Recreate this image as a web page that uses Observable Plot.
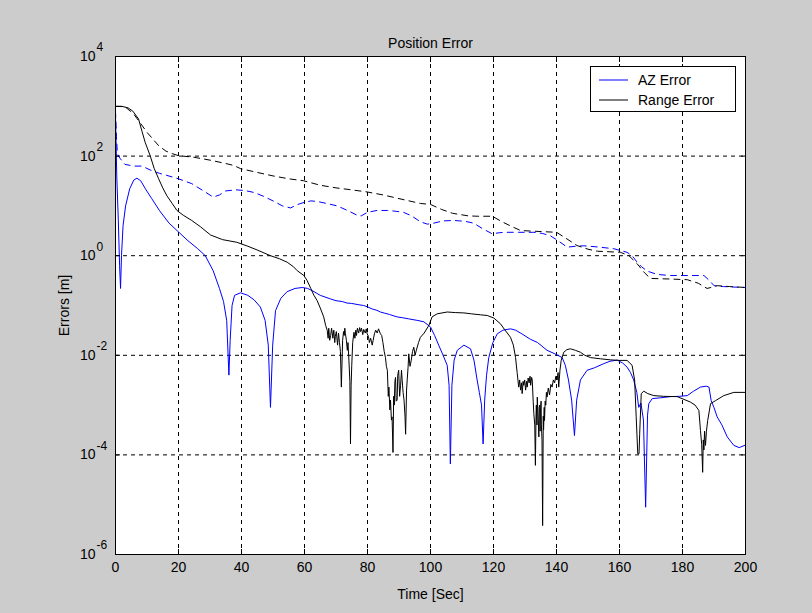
<!DOCTYPE html>
<html>
<head>
<meta charset="utf-8">
<script src="https://cdn.jsdelivr.net/npm/d3@7"></script>
<script src="https://cdn.jsdelivr.net/npm/@observablehq/plot@0.6"></script>
<style>
  html, body { margin: 0; padding: 0; background: #cccccc; }
  #chart { position: relative; width: 812px; height: 613px; }
  .legend {
    position: absolute; left: 590px; top: 66px; width: 144px; height: 44px;
    background: #ffffff; border: 1px solid #000000;
    font: 14px "Liberation Sans", Arial, sans-serif; color: #000;
  }
  .legend .row { position: absolute; left: 0; height: 20px; display: flex; align-items: center; }
  .legend svg { margin-left: 8px; margin-right: 10px; }
</style>
</head>
<body>
<div id="chart"></div>
<script>
// Axis ticks
const xTicks = [0, 20, 40, 60, 80, 100, 120, 140, 160, 180, 200];
const yTicks = [1e-6, 1e-4, 1e-2, 1e0, 1e2, 1e4];

// Series: [time (s), error (m)]
const azError = [
  [0,700],[0.4,40],[0.9,5],[1.3,0.63],[1.6,0.22],[1.9,1],[2.4,4],[3.2,10],[4.5,22],[5.8,33],
  [6.8,36],[8,32],[9.5,22],[11.5,14],[14,8],[17,4.5],[20,3],[23,2],[26,1.4],[28.5,1.0],
  [31,0.5],[33,0.22],[34.3,0.12],[35.3,0.05],[36,0.004],[36.4,0.02],[37,0.1],[37.8,0.16],[39.7,0.18],[42,0.16],
  [44,0.13],[46,0.093],[47.5,0.05],[48.5,0.016],[49.2,0.0009],[49.9,0.016],[50.8,0.079],[52.5,0.14],[54.5,0.19],[57,0.22],
  [59.3,0.23],[61,0.22],[63,0.19],[65,0.16],[68.3,0.135],[70,0.125],[72,0.12],[73.5,0.112],[75,0.11],[77,0.104],[78.8,0.1],
  [80,0.094],[81.5,0.085],[83,0.08],[84.1,0.074],[85.5,0.07],[87,0.066],[89.4,0.059],[91,0.057],[93,0.054],[96,0.05],[97.9,0.047],
  [100,0.037],[101.3,0.025],[102.6,0.016],[104,0.01],[105.3,0.0063],
  [105.9,0.0025],[106.3,0.000066],[106.8,0.0025],[107.5,0.008],[108.5,0.0126],[110.6,0.016],[112.7,0.0135],[113.8,0.008],[114.8,0.0032],[115.5,0.0018],
  [116.2,0.001],[116.7,0.000166],[117.2,0.00126],[117.8,0.004],[118.5,0.009],[119.8,0.018],[121.2,0.027],[123,0.032],[125.4,0.034],[127,0.032],
  [129,0.027],[131.7,0.021],[134,0.018],[137,0.0126],[139.5,0.0107],[141.8,0.009],[142.8,0.0063],[143.8,0.0032],[144.8,0.00126],[145.7,0.000245],
  [146.4,0.00126],[147.6,0.0032],[149.7,0.005],[152,0.0056],[155,0.0068],[157,0.0076],[159.3,0.008],[161,0.007],[162.4,0.0058],[163.5,0.0045],
  [164.5,0.0032],[165.5,0.0018],[166.1,0.0009],[166.8,0.0011],[167.6,0.0005],[168.3,0.0000089],[168.9,0.00063],[169.3,0.00107],[170.4,0.00135],[173,0.0014],
  [176.2,0.00148],[179,0.0015],[181.5,0.00155],[183.5,0.0019],[185.7,0.0023],[187.5,0.0024],[188.4,0.0023],[189.1,0.00123],[190,0.00089],[191,0.00058],
  [192.5,0.0004],[194.2,0.00023],[196.3,0.000155],[198,0.00014],[200,0.000158]
];

const rangeError = [
  [0,1000],[2,1000],[4,930],[5.5,800],[7.3,560],[8.4,316],[9.4,190],[11,102],[12.3,56],[13.7,35],
  [15,23],[16.3,16],[18,11.2],[19.5,8.1],[21.5,6.5],[24.2,5.1],[27,3.8],[30.2,2.6],[34,2.1],[38.5,1.86],
  [42,1.55],[45,1.3],[49.2,1.0],[52,0.87],[54.5,0.74],[56.5,0.6],[57.7,0.5],[59.8,0.4],[60.8,0.32],[62,0.22],
  [63,0.16],[64,0.126],[65,0.089],[66.1,0.059],[66.7,0.04],[67.2,0.032],[67.5,0.022],[67.7,0.035],[68,0.02],[68.3,0.025],
  [68.6,0.035],[69,0.022],[69.3,0.032],[69.6,0.018],[69.8,0.024],[70.1,0.03],[70.5,0.016],[70.8,0.028],[71.1,0.018],[71.4,0.012],
  [71.7,0.0023],[72.1,0.02],[72.4,0.03],[72.6,0.025],[72.8,0.035],[73,0.027],[73.3,0.02],[73.6,0.0126],[73.8,0.018],[74.1,0.008],
  [74.4,0.003],[74.6,0.000166],[74.8,0.0025],[75,0.0063],[75.3,0.018],[75.7,0.029],[76,0.022],[76.3,0.032],[76.5,0.025],[76.8,0.035],
  [77.2,0.028],[77.5,0.036],[77.8,0.03],[78.1,0.035],[78.5,0.026],[78.8,0.033],[79.3,0.028],[79.6,0.034],[79.9,0.027],[80.3,0.024],
  [80.6,0.018],[81,0.022],[81.5,0.016],[81.8,0.02],[82.2,0.027],[82.6,0.032],[83.1,0.028],[83.5,0.034],[84.1,0.027],[84.5,0.025],
  [84.9,0.018],[85.3,0.012],[85.7,0.009],[86,0.006],[86.3,0.005],[86.6,0.0015],[86.8,0.0023],[87.1,0.0008],[87.3,0.00126],[87.6,0.0005],
  [87.8,0.00058],[88.1,0.000112],[88.3,0.0015],[88.5,0.001],[88.7,0.003],[88.9,0.0036],[89.1,0.0012],[89.4,0.00126],[89.6,0.004],[89.9,0.005],
  [90.2,0.0015],[90.5,0.0025],[90.8,0.005],[91,0.0032],[91.3,0.0018],[91.6,0.00126],[91.9,0.0006],[92.1,0.00026],[92.4,0.002],[92.6,0.0032],
  [92.9,0.006],[93.1,0.0107],[93.5,0.006],[93.9,0.008],[94.3,0.012],[94.7,0.0145],[95.1,0.01],[95.5,0.0126],[96.2,0.018],[96.8,0.023],
  [98,0.028],[99.5,0.04],[100.5,0.059],[102.1,0.068],[105.3,0.074],[108,0.072],[110.6,0.071],[113,0.068],
  [115.9,0.065],[118,0.063],[120.1,0.056],[122.2,0.043],[123.5,0.033],[125.4,0.023],[126.3,0.016],[127,0.009],[127.5,0.0045],[128,0.0023],
  [128.3,0.0032],[128.6,0.002],[128.9,0.0028],[129.1,0.0017],[129.4,0.003],[129.6,0.0025],[129.9,0.0032],[130.2,0.002],[130.5,0.003],[130.7,0.0023],
  [131,0.0035],[131.3,0.0028],[131.6,0.0038],[131.8,0.0025],[132.1,0.0036],[132.3,0.0032],[132.6,0.0012],[132.8,0.00068],[133.1,0.0004],[133.3,0.0000617],
  [133.5,0.0006],[133.6,0.001],[133.8,0.0004],[133.9,0.00145],[134.1,0.0007],[134.2,0.0005],[134.4,0.00023],[134.5,0.0009],[134.7,0.001],[134.8,0.0003],
  [134.9,0.00068],[135.1,0.0012],[135.2,0.0004],[135.4,0.0002],[135.6,0.0000038],[135.8,0.0006],[135.9,0.00032],[136.1,0.0009],[136.2,0.00049],[136.4,0.0012],
  [136.6,0.001],[136.8,0.0018],[137,0.00145],[137.4,0.0022],[137.8,0.0016],[138.2,0.0026],[138.6,0.0023],[139,0.0032],[139.4,0.0028],[139.8,0.0038],
  [140.2,0.0032],[140.5,0.0045],[140.7,0.0023],[141.1,0.005],[141.5,0.008],[142.3,0.0115],
  [143.3,0.013],[144.4,0.0135],[146,0.0126],[147.6,0.0115],[149,0.01],[150.8,0.009],[154,0.0085],[157.1,0.0081],[160,0.0079],[162.4,0.0079],
  [164,0.0063],[164.8,0.0032],[165.3,0.00058],[165.8,0.000105],[166.2,0.000105],[166.4,0.00026],[166.9,0.0017],[167.7,0.0019],[169,0.0017],[170.9,0.00155],
  [174,0.0015],[178.3,0.00148],[180.5,0.0013],[182.5,0.00115],[184,0.001],[185.2,0.00078],[185.7,0.00031],[186.1,0.00016],[186.4,0.0000447],[186.6,0.0002],
  [186.8,0.000126],[187,0.0003],[187.3,0.000155],[187.6,0.0003],[188,0.00049],[188.9,0.00107],[190.5,0.00123],[193.1,0.00155],[196.3,0.0018],[200,0.0018]
];

// Dashed bounds drawn for each error
const azBound = [
  [0,800],[0.3,250],[0.6,112],[1.5,89],[3,68],[6,63],[8.4,63],[11.5,51],[14,45],[16.3,41],
  [20,35],[24.2,28],[28.5,19],[31,15],[33,16.6],[35,20],[38.3,21],[41,20.4],[44,18.6],[47.1,15.5],
  [50,12.6],[53,10],[55.6,9.1],[57.5,10.5],[59.8,11.7],[62,12.6],[64,12.3],[67,11.2],[70.4,10],[74,7.9],
  [76.7,6.5],[78,6.3],[79.9,7.4],[83,8.1],[86.3,8.1],[89,7.8],[91.5,7.4],[94,6.3],[96.8,4.8],[99,4.3],
  [101,4.5],[104,5],[107.4,5.1],[111,4.9],[113.7,4.5],[116.5,3.5],[119.6,2.75],[122,2.9],[124.3,2.95],[128,2.95],
  [132.8,2.95],[135.5,2.8],[138.1,2.5],[140.5,2.0],[143.4,1.48],[146,1.55],[148.7,1.58],[153,1.5],[158.2,1.38],[162.4,1.17],
  [164,1.0],[165.6,0.74],[167,0.6],[168.8,0.49],[172,0.42],[176.2,0.4],[182,0.4],[186.8,0.4],[188.5,0.32],[190,0.25],
  [193,0.24],[196,0.235],[200,0.23]
];

const rangeBound = [
  [0,1000],[3,980],[5.7,710],[8,450],[10,300],[12,215],[13.7,162],[16,126],[18,112],[20,102],
  [24.8,95],[30,83],[35,71],[37.5,65],[39.7,56],[45,47],[50,40],[55,35],[59.7,32],[65,26],
  [70,23],[75,21],[80,19],[85,16.6],[90,14],[96.8,11.2],[100,10.7],[103.5,8.5],[107,7.1],[112,6.3],
  [115,6.2],[119.6,6.2],[123,4.7],[126,3.8],[128.6,3.2],[133,3.1],[140,2.95],[143,2.24],[146.5,1.6],[150,1.35],
  [153,1.23],[160.3,1.17],[163,1.0],[165.6,0.69],[168,0.45],[169.8,0.35],[176,0.34],[181.5,0.33],[185,0.28],[187.8,0.22],
  [189,0.23],[191,0.25],[195,0.24],[200,0.23]
];

const seriesNames = ["AZ Error", "Range Error"];
const seriesColors = ["#0000ff", "#000000"];

const font = '"Liberation Sans", Arial, sans-serif';
const gridDash = "4,4";
const boundDash = "6,5";

const chart = Plot.plot({
  width: 812,
  height: 613,
  marginLeft: 115,
  marginRight: 67,
  marginTop: 56,
  marginBottom: 59,
  style: { background: "#cccccc", fontFamily: font, fontSize: "14px", color: "#000" },
  x: { domain: [0, 200] },
  y: { type: "log", domain: [1e-6, 1e4] },
  marks: [
    Plot.frame({ fill: "#ffffff", stroke: null }),
    Plot.gridX(xTicks, { stroke: "#000", strokeOpacity: 1, strokeDasharray: gridDash }),
    Plot.gridY(yTicks, { stroke: "#000", strokeOpacity: 1, strokeDasharray: gridDash }),
    Plot.line(azBound, { x: d => d[0], y: d => d[1], stroke: seriesColors[0], strokeWidth: 1, strokeDasharray: boundDash }),
    Plot.line(rangeBound, { x: d => d[0], y: d => d[1], stroke: seriesColors[1], strokeWidth: 1, strokeDasharray: boundDash }),
    Plot.line(azError, { x: d => d[0], y: d => d[1], stroke: seriesColors[0], strokeWidth: 1 }),
    Plot.line(rangeError, { x: d => d[0], y: d => d[1], stroke: seriesColors[1], strokeWidth: 1 }),
    Plot.frame({ stroke: "#000", strokeWidth: 1 }),
    // inward tick marks on all four sides
    Plot.axisX(xTicks, { anchor: "bottom", tickSize: -5, tickFormat: () => "", label: null }),
    Plot.axisX(xTicks, { anchor: "top", tickSize: -5, tickFormat: () => "", label: null }),
    Plot.axisY(yTicks, { anchor: "left", tickSize: -5, tickFormat: () => "", label: null }),
    Plot.axisY(yTicks, { anchor: "right", tickSize: -5, tickFormat: () => "", label: null }),
    // tick labels and axis titles
    Plot.axisX(xTicks, { anchor: "bottom", tickSize: 0, tickPadding: 8, tickFormat: d => String(d),
      label: "Time [Sec]", labelAnchor: "center", labelArrow: "none", labelOffset: 44 }),
    Plot.axisY(yTicks, { anchor: "left", tickSize: 0, tickPadding: 20, tickFormat: () => "10",
      label: "Errors [m]", labelAnchor: "center", labelArrow: "none", labelOffset: 56 }),
    Plot.text(yTicks, { y: d => d, frameAnchor: "left", dx: -19, dy: -9, textAnchor: "start", fontSize: 12,
      text: d => String(Math.round(Math.log10(d))) }),
    Plot.text(["Position Error"], { frameAnchor: "top", dy: -18, fontSize: 14, text: d => d })
  ]
});

const holder = document.getElementById("chart");
holder.appendChild(chart);

// legend box
const legend = document.createElement("div");
legend.className = "legend";
seriesNames.forEach((name, i) => {
  const row = document.createElement("div");
  row.className = "row";
  row.style.top = (3 + i * 20) + "px";
  row.innerHTML = `<svg width="29" height="4"><line x1="0" x2="29" y1="2" y2="2" stroke="${seriesColors[i]}" stroke-width="1"/></svg><span>${name}</span>`;
  legend.appendChild(row);
});
holder.appendChild(legend);
</script>
</body>
</html>
